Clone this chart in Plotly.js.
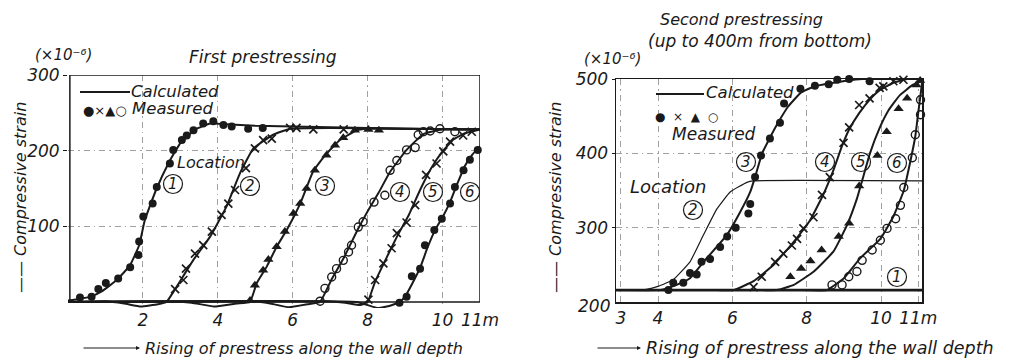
<!DOCTYPE html>
<html><head><meta charset="utf-8">
<script src="https://cdn.plot.ly/plotly-3.0.1.min.js"></script>
<style>html,body{margin:0;padding:0;background:#fff}</style>
</head><body><div id="chart" style="width:1012px;height:364px"></div>
<script>
// ---------- LEFT PANEL: First prestressing ----------
const calcL1_x = [0, 0.3, 0.6, 0.9, 1.3, 1.65, 1.9, 2.05, 2.35, 2.7, 3.0, 3.4, 3.8, 4.2, 5, 7, 9, 11];
const calcL1_y = [2, 4, 7, 14, 29, 48, 75, 108, 148, 185, 210, 228, 236, 235, 233, 231, 229, 228];
const calcL2_x = [0, 1.0, 1.5, 1.95, 2.4, 2.63, 2.86, 3.34, 3.79, 4.23, 4.59, 4.95, 5.48, 5.93, 7, 9, 11];
const calcL2_y = [0, 1, -2, -6, -3, 0, 17, 55, 86, 126, 170, 203, 221, 229, 230, 229, 228];
const calcL3_x = [0, 2.6, 3.3, 3.9, 4.5, 4.86, 5.04, 5.31, 5.57, 5.84, 6.2, 6.55, 6.9, 7.26, 7.71, 7.98, 9, 11];
const calcL3_y = [0, 1, -1, -6, -2, 0, 25, 47, 73, 95, 130, 173, 196, 214, 227, 229, 229, 228];
const calcL4_x = [0, 4.8, 5.3, 5.9, 6.4, 6.73, 7.04, 7.35, 7.75, 8.0, 8.3, 8.6, 9.04, 9.49, 9.98, 11];
const calcL4_y = [0, 1, -1, -7, -3, 0, 30, 57, 97, 120, 145, 172, 201, 222, 228, 228];
const calcL5_x = [0, 6.9, 7.4, 7.8, 8.0, 8.2, 8.5, 8.8, 9.1, 9.4, 9.7, 10.0, 10.3, 10.6, 11];
const calcL5_y = [0, 1, -1, -4, 0, 27, 58, 88, 115, 148, 177, 199, 215, 223, 228];
const calcL6_x = [0, 7.7, 8.28, 8.6, 8.85, 9.0, 9.2, 9.4, 9.6, 9.8, 10.0, 10.2, 10.4, 10.6, 10.8, 11];
const calcL6_y = [0, 0, -8, -5, 0, 7, 25, 45, 72, 95, 112, 132, 157, 180, 195, 206];

const measL1_x = [0.32, 0.63, 0.81, 1.01, 1.34, 1.66, 1.88, 1.9, 2.01, 2.26, 2.37, 2.72, 2.81, 3.04, 3.17, 3.35, 3.61, 3.88, 4.15, 4.37, 4.81, 5.2];
const measL1_y = [6, 7, 17, 25, 31, 46, 62, 80, 113, 130, 152, 183, 201, 214, 220, 227, 236, 239, 234, 232, 229, 230];
const measL2_x = [2.86, 3.08, 3.15, 3.39, 3.61, 3.84, 4.1, 4.28, 4.46, 4.75, 4.99, 5.21, 5.44, 5.93, 6.1, 6.55, 7.36];
const measL2_y = [17, 29, 44, 64, 75, 93, 115, 130, 148, 177, 203, 214, 216, 230, 230, 228, 228];
const measL3_x = [4.86, 4.99, 5.21, 5.35, 5.57, 5.79, 6.02, 6.2, 6.37, 6.59, 6.9, 7.13, 7.35, 7.66, 8.02, 8.3];
const measL3_y = [2, 22, 42, 56, 73, 93, 117, 130, 150, 174, 194, 207, 217, 227, 228, 227];
const measL4_x = [6.73, 6.86, 7.04, 7.17, 7.35, 7.49, 7.57, 7.75, 7.88, 8.17, 8.46, 8.6, 8.78, 9.04, 9.27, 9.35, 9.49, 9.67, 9.93, 10.33];
const measL4_y = [1, 18, 33, 44, 55, 66, 75, 99, 106, 132, 141, 174, 187, 201, 204, 221, 225, 226, 229, 225];
const measL5_x = [8.02, 8.2, 8.42, 8.64, 8.78, 9.04, 9.27, 9.56, 9.84, 10.02, 10.2, 10.55, 10.78];
const measL5_y = [3, 29, 51, 71, 91, 105, 128, 168, 183, 199, 212, 220, 225];
const measL6_x = [8.85, 9.04, 9.18, 9.4, 9.53, 9.78, 9.98, 10.2, 10.33, 10.56, 10.73, 10.94];
const measL6_y = [-1, 7, 34, 44, 75, 95, 110, 130, 152, 174, 188, 201];

// ---------- RIGHT PANEL: Second prestressing ----------
const calcR1_x = [2.87, 11.1];
const calcR1_y = [216, 216];
const calcR2_x = [2.87, 3.4, 3.69, 4.0, 4.41, 4.86, 5.22, 5.58, 5.94, 6.39, 6.56, 11.1];
const calcR2_y = [216, 216, 217, 221, 230, 254, 290, 325, 348, 361, 363, 363];
const calcR3_x = [2.87, 4.0, 4.14, 4.5, 4.86, 5.31, 5.85, 6.21, 6.48, 6.61, 6.8, 7.0, 7.25, 7.5, 7.85, 8.2, 8.6, 9.1, 9.5, 11.1];
const calcR3_y = [216, 216, 217, 223, 232, 259, 290, 321, 348, 368, 400, 420, 443, 463, 482, 490, 494, 498, 500, 500];
const calcR4_x = [2.87, 5.6, 6.03, 6.57, 7.11, 7.65, 8.09, 8.45, 8.7, 8.95, 9.14, 9.41, 9.69, 9.96, 10.33, 10.7, 11.1];
const calcR4_y = [216, 216, 216, 228, 250, 281, 310, 345, 375, 410, 432, 454, 472, 485, 495, 500, 500];
const calcR5_x = [2.87, 6.8, 7.2, 7.65, 8.19, 8.72, 9.08, 9.35, 9.5, 9.7, 9.95, 10.2, 10.5, 10.85, 11.1];
const calcR5_y = [216, 216, 216, 223, 241, 268, 303, 339, 365, 400, 433, 458, 478, 492, 497];
const calcR6_x = [2.87, 8.0, 8.54, 9.0, 9.44, 9.98, 10.34, 10.61, 10.79, 10.92, 11.0, 11.06, 11.1];
const calcR6_y = [216, 216, 216, 232, 259, 285, 316, 350, 390, 423, 455, 478, 495];

const measR3_x = [4.28, 4.41, 4.68, 4.86, 5.04, 5.17, 5.4, 5.67, 5.86, 6.09, 6.43, 6.48, 6.61, 6.77, 7.01, 7.28, 7.39, 7.83, 8.22, 8.59, 8.82, 9.14, 9.41, 9.69];
const measR3_y = [216, 226, 226, 239, 237, 254, 258, 274, 288, 300, 319, 332, 368, 397, 420, 441, 467, 487, 491, 493, 499, 500, 501, 497];
const measR4_x = [6.57, 6.79, 7.15, 7.37, 7.6, 7.74, 7.91, 8.18, 8.41, 8.62, 8.99, 9.14, 9.41, 9.69, 9.96, 10.06, 10.33, 10.6];
const measR4_y = [220, 234, 254, 265, 276, 285, 299, 314, 344, 368, 414, 435, 465, 474, 488, 490, 497, 499];
const measR5_x = [7.56, 7.85, 8.1, 8.4, 8.86, 9.14, 9.41, 9.9, 10.15, 10.47, 10.7, 10.95, 11.05];
const measR5_y = [234, 245, 255, 270, 288, 306, 356, 397, 429, 460, 474, 492, 498];
const measR6_x = [8.68, 8.95, 9.13, 9.35, 9.49, 9.76, 9.98, 10.16, 10.39, 10.52, 10.61, 10.84, 10.92, 11.06, 11.06];
const measR6_y = [223, 223, 234, 241, 256, 270, 283, 299, 312, 330, 354, 394, 425, 452, 472];

// tick labels
const xTicksL = [2, 4, 6, 8, 10, 11];
const xTickTextL = ['2', '4', '6', '8', '10', '11m'];
const yTicksL = [100, 200, 300];
const xTicksR = [3, 4, 6, 8, 10, 11];
const xTickTextR = ['3', '4', '6', '8', '10', '11m'];
const yTicksR = [300, 400, 500];
const locLabels = ['1', '2', '3', '4', '5', '6'];

// ---------- helpers ----------
const W = 1012, H = 364;
const px = p => p / W;
const py = p => 1 - p / H;
const FONT = 'DejaVu Sans, sans-serif';
const INK = '#1a1a1a';

function calc(x, y, xa, ya, w) {
  return {x: x, y: y, xaxis: xa, yaxis: ya, mode: 'lines', line: {color: INK, width: w || 2, shape: 'spline', smoothing: 0.35}, hoverinfo: 'skip', showlegend: false};
}
function meas(x, y, xa, ya, kind) {
  const m = {color: INK, size: 8};
  if (kind === 'dot') { m.symbol = 'circle'; m.size = 8; }
  if (kind === 'x') { m.symbol = 'x-thin-open'; m.size = 8; m.line = {color: INK, width: 1.7}; }
  if (kind === 'tri') { m.symbol = 'triangle-up'; m.size = 9; }
  if (kind === 'ring') { m.symbol = 'circle-open'; m.size = 8; m.line = {color: INK, width: 1.4}; }
  return {x: x, y: y, xaxis: xa, yaxis: ya, mode: 'markers', marker: m, cliponaxis: false, hoverinfo: 'skip', showlegend: false};
}

const data = [
  calc(calcL1_x, calcL1_y, 'x', 'y'), calc(calcL2_x, calcL2_y, 'x', 'y'), calc(calcL3_x, calcL3_y, 'x', 'y'),
  calc(calcL4_x, calcL4_y, 'x', 'y'), calc(calcL5_x, calcL5_y, 'x', 'y'), calc(calcL6_x, calcL6_y, 'x', 'y'),
  meas(measL1_x, measL1_y, 'x', 'y', 'dot'), meas(measL2_x, measL2_y, 'x', 'y', 'x'), meas(measL3_x, measL3_y, 'x', 'y', 'tri'),
  meas(measL4_x, measL4_y, 'x', 'y', 'ring'), meas(measL5_x, measL5_y, 'x', 'y', 'x'), meas(measL6_x, measL6_y, 'x', 'y', 'dot'),
  calc(calcR1_x, calcR1_y, 'x2', 'y2', 2.6), calc(calcR2_x, calcR2_y, 'x2', 'y2', 1.2), calc(calcR3_x, calcR3_y, 'x2', 'y2'),
  calc(calcR4_x, calcR4_y, 'x2', 'y2'), calc(calcR5_x, calcR5_y, 'x2', 'y2'), calc(calcR6_x, calcR6_y, 'x2', 'y2'),
  meas(measR3_x, measR3_y, 'x2', 'y2', 'dot'), meas(measR4_x, measR4_y, 'x2', 'y2', 'x'),
  meas(measR5_x, measR5_y, 'x2', 'y2', 'tri'), meas(measR6_x, measR6_y, 'x2', 'y2', 'ring')
];

const tickFont = {family: FONT, size: 17, color: INK, style: 'italic'};
const gridStyle = {showgrid: true, gridcolor: '#8a8a8a', griddash: '6px,4px,1.5px,4px', gridwidth: 0.8, zeroline: false};

function txt(t, x, y, size, opts) {
  return Object.assign({text: t, x: px(x), y: py(y), xref: 'paper', yref: 'paper', showarrow: false,
    font: {family: FONT, size: size, color: INK, style: 'italic'}, xanchor: 'center', yanchor: 'middle'}, opts || {});
}
function arrow(x0, x1, y) {
  return {text: '', x: px(x1), y: py(y), xref: 'paper', yref: 'paper', showarrow: true, ax: x0 - x1, ay: 0,
    arrowhead: 2, arrowsize: 0.8, arrowwidth: 1, arrowcolor: INK};
}
const R = 9.5;
function ring(cx, cy) {
  return {type: 'circle', xref: 'paper', yref: 'paper', x0: px(cx - R), x1: px(cx + R), y0: py(cy + R), y1: py(cy - R),
    line: {color: INK, width: 1.2}, fillcolor: 'rgba(0,0,0,0)'};
}

// location label centres (pixel positions)
const locL = [[173, 184], [250, 186], [325, 186], [400, 192], [433, 192], [470, 192]];
const locR = [[897, 277], [693, 210], [746, 162], [825, 162], [861, 162], [897, 163]];

const shapes = [
  {type: 'rect', xref: 'x', yref: 'y', x0: 0.05, x1: 11, y0: 0, y1: 300, line: {color: INK, width: 1.5}},
  {type: 'line', xref: 'paper', yref: 'paper', x0: px(80), x1: px(130), y0: py(92), y1: py(92), line: {color: INK, width: 2}},
  {type: 'line', xref: 'paper', yref: 'paper', x0: px(656), x1: px(704), y0: py(94), y1: py(94), line: {color: INK, width: 2}}
];
const annotations = [
  // left panel
  txt('(×10⁻⁶)', 64, 55, 15),
  txt('First prestressing', 263, 57, 17),
  txt('—— Compressive strain', 21, 198, 16, {textangle: -90}),
  arrow(82, 140, 348),
  txt('Rising of prestress along the wall depth', 143, 348, 16, {xanchor: 'left'}),
  txt('Calculated', 129, 91, 16.5, {xanchor: 'left'}),
  txt('●×▲○', 81, 110, 13, {xanchor: 'left', font: {family: FONT, size: 13, color: INK}}),
  txt('Measured', 130, 108, 16.5, {xanchor: 'left'}),
  txt('Location', 175, 162, 16, {xanchor: 'left'}),
  // right panel
  txt('Second prestressing', 741, 19, 16),
  txt('(up to 400m from bottom)', 760, 41, 17),
  txt('(×10⁻⁶)', 612, 59, 15),
  txt('200', 612, 306, 17, {xanchor: 'right'}),
  txt('—— Compressive strain', 556, 198, 16, {textangle: -90}),
  arrow(596, 641, 348),
  txt('Rising of prestress along the wall depth', 644, 348, 17.5, {xanchor: 'left'}),
  txt('Calculated', 704, 92, 16.5, {xanchor: 'left'}),
  txt('●  ×  ▲  ○', 653, 117, 12, {xanchor: 'left', font: {family: FONT, size: 12, color: INK}}),
  txt('Measured', 670, 134, 17, {xanchor: 'left'}),
  txt('Location', 628, 187, 18, {xanchor: 'left'})
];
locL.forEach((c, i) => { shapes.push(ring(c[0], c[1])); annotations.push(txt(locLabels[i], c[0], c[1], 15)); });
locR.forEach((c, i) => { shapes.push(ring(c[0], c[1])); annotations.push(txt(locLabels[i], c[0], c[1], 15)); });

const layout = {
  width: W, height: H, margin: {l: 0, r: 0, t: 0, b: 0, pad: 0},
  paper_bgcolor: '#fff', plot_bgcolor: '#fff', showlegend: false,
  xaxis: Object.assign({domain: [px(68), px(480)], range: [0, 11], anchor: 'y', tickvals: xTicksL, ticktext: xTickTextL,
    tickfont: tickFont, ticks: '', showline: false}, gridStyle),
  yaxis: Object.assign({domain: [py(308), py(75)], range: [-8, 300], anchor: 'x', tickvals: yTicksL,
    tickfont: tickFont, ticks: 'outside', ticklen: 4, tickcolor: INK, showline: false}, gridStyle),
  xaxis2: Object.assign({domain: [px(616), px(922)], range: [2.87, 11.1], anchor: 'y2', tickvals: xTicksR, ticktext: xTickTextR,
    tickfont: tickFont, ticks: '', showline: true, mirror: true, linecolor: INK, linewidth: 1.5}, gridStyle),
  yaxis2: Object.assign({domain: [py(302), py(79)], range: [200, 500], anchor: 'x2', tickvals: yTicksR,
    tickfont: tickFont, ticks: 'outside', ticklen: 3, tickcolor: INK, showline: true, mirror: true, linecolor: INK, linewidth: 1.5}, gridStyle),
  shapes: shapes,
  annotations: annotations
};

Plotly.newPlot('chart', data, layout, {staticPlot: true, displayModeBar: false});
</script>
</body></html>
